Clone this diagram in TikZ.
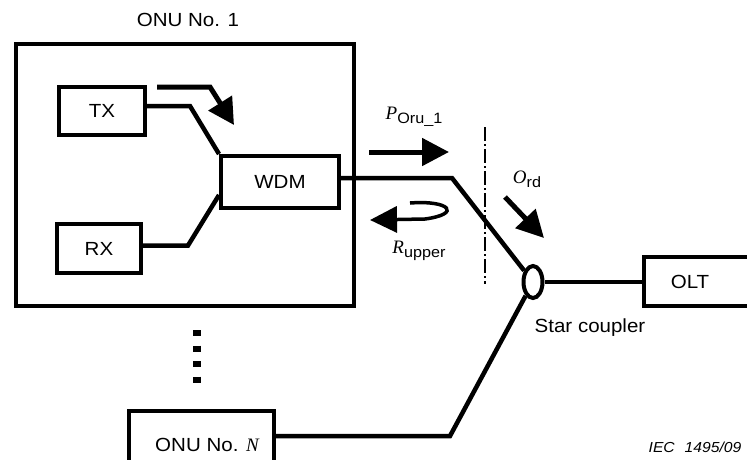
\documentclass[tikz,border=0pt]{standalone}
\usepackage{fontspec}
\setmainfont[FakeStretch=1.08]{Liberation Sans}
\newfontfamily\tms{Liberation Serif}
\usetikzlibrary{arrows.meta,shapes.geometric}
\tikzset{
  box/.style={draw, line width=4pt, rectangle, inner sep=0pt},
  fib/.style={line width=4.5pt, line join=miter},
  lbl/.style={inner sep=0pt, font=\fontsize{19}{22}\selectfont},
  bigarrow/.style={line width=5pt, -{Triangle[length=27pt,width=27pt]}},
}
\newcommand{\vsym}[1]{{\tms\itshape\fontsize{19}{22}\selectfont #1}}
\newcommand{\vsub}[1]{\raisebox{-4pt}{\fontsize{15}{15}\selectfont #1}}
\begin{document}
\begin{tikzpicture}[x=1pt,y=-1pt]
\useasboundingbox (0,0) rectangle (747,459);
\clip (0,0) rectangle (747,459);
% ONU No. 1
\node[box, minimum width=338pt, minimum height=262pt] (onu1) at (185,175) {};
\node[lbl] (onu1lbl) at (188,20) {ONU No. 1};
\node[box, minimum width=86pt, minimum height=48pt, lbl] (tx) at (102,111) {TX};
\node[box, minimum width=84pt, minimum height=49pt, lbl] (rx) at (99,248.5) {RX};
\node[box, minimum width=118pt, minimum height=52pt, lbl] (wdm) at (280,182) {WDM};
% star coupler and OLT
\node[draw, ellipse, line width=4pt, minimum width=19pt, minimum height=32pt, inner sep=0pt] (sc) at (533,282) {};
\node[lbl] (sclbl) at (590,328) {Star coupler};
\node[box, minimum width=120pt, minimum height=49pt] (olt) at (704,281.5) {};
\node[lbl] (oltlbl) at (690,282) {OLT};
% ONU No. N
\node[box, minimum width=145pt, minimum height=60pt] (onun) at (201.5,441) {};
\node[lbl] (onunlbl) at (207,445) {ONU No. {\tms\itshape N}};
% internal fibres
\draw[fib] ([yshift=5pt]tx.east) -- (190,106) -- (wdm.north west);
\draw[fib] ([yshift=3pt]rx.east) -- (188,245.5) -- ([yshift=-13pt]wdm.west);
% TX direction arrow
\draw[line width=5pt, -{Triangle[length=26pt,width=27pt]}] (157,87) -- (210,87) -- (234,125);
% fibres to coupler
\draw[fib] ([yshift=4pt]wdm.east) -- (452,178) -- (sc);
\draw[fib] (onun.east |- 0,436) -- (450,436) -- (sc);
\draw[fib] (sc.east) -- (olt.west |- sc.east);
% reference plane
\draw[line width=2pt, dash pattern=on 14pt off 3pt on 2pt off 3pt] (485,127) -- (485,284);
% P arrow
\draw[bigarrow] (369,152) -- (449,152);
\node[inner sep=0pt] (plbl) at (414,117) {\vsym{P}\vsub{Oru\_1}};
% O_rd arrow
\draw[bigarrow] (505,197) -- (544,238);
\node[inner sep=0pt] (olbl) at (527,179) {\vsym{O}\vsub{rd}};
% R_upper loop arrow
\draw[line width=3.5pt, -{Triangle[length=27pt,width=26pt]}] (410,203) .. controls (450,200) and (462,214) .. (425,219) -- (370,220);
\node[inner sep=0pt] (rlbl) at (419,251) {\vsym{R}\vsub{upper}};
% dots
\draw[line width=8pt, dash pattern=on 6pt off 9.5pt] (197,330) -- (197,383);
% IEC
\node[inner sep=0pt, font=\fontsize{14.5}{16}\selectfont\itshape] (iec) at (695,447) {IEC\hspace{10pt}1495/09};
\end{tikzpicture}
\end{document}
